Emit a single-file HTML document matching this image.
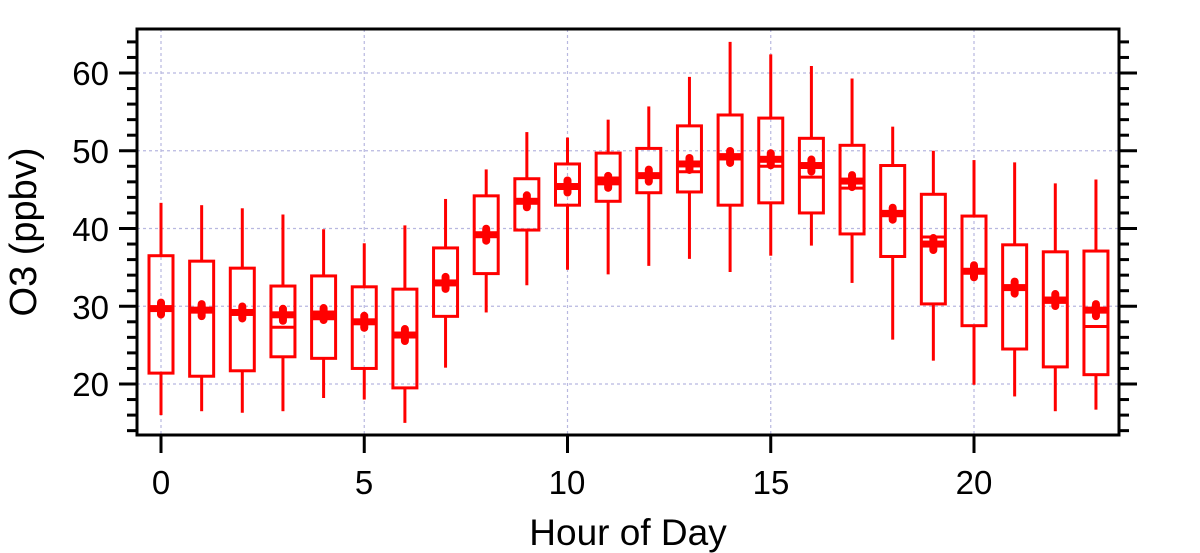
<!DOCTYPE html>
<html><head><style>body{margin:0;background:#fff}svg{display:block}text{font-family:"Liberation Sans",Arial,sans-serif;fill:#000}</style></head>
<body>
<svg id="s" width="1200" height="553" viewBox="0 0 1200 553">
<g id="grid" stroke="#b8b8e0" stroke-width="1.2" stroke-dasharray="3,3"></g>
<g id="data"></g>
<g id="axes" stroke="#000" stroke-width="3" fill="none"></g>
<g style="font-size:33px" text-anchor="end">
<text x="109" y="85">60</text><text x="109" y="163">50</text><text x="109" y="241">40</text><text x="109" y="319">30</text><text x="109" y="396">20</text>
</g>
<g style="font-size:33px" text-anchor="middle">
<text x="161" y="494">0</text><text x="364" y="494">5</text><text x="567" y="494">10</text><text x="771" y="494">15</text><text x="974" y="494">20</text>
</g>
<g style="font-size:37px" text-anchor="middle">
<text x="628" y="545">Hour of Day</text>
<text transform="translate(36,232) rotate(-90)" style="font-size:38px">O3 (ppbv)</text>
</g>
</svg>
<script>
var L=137,R=1119,T=29,B=435;
function X(h){return 161+h*40.65}
function Y(v){return 384-(v-20)*7.775}
var ns="http://www.w3.org/2000/svg";
function el(p,t,a){var e=document.createElementNS(ns,t);for(var k in a)e.setAttribute(k,a[k]);document.getElementById(p).appendChild(e);return e}
for(var v=20;v<=60;v+=10)el("grid","line",{x1:L,x2:R,y1:Y(v),y2:Y(v)});
for(var h=0;h<=20;h+=5)el("grid","line",{x1:X(h),x2:X(h),y1:T,y2:B});
var d=[[16,21.4,29.6,36.5,43.3,29.7],[16.5,21,29.5,35.8,43,29.5],[16.3,21.7,29,34.9,42.6,29.2],[16.5,23.5,27.3,32.6,41.8,28.9],[18.2,23.3,28.4,33.9,39.9,29],[18,22,28,32.5,38.1,28],[15,19.5,26.2,32.2,40.4,26.3],[22.1,28.7,33,37.5,43.8,33],[29.2,34.2,39.2,44.2,47.6,39.2],[32.7,39.8,43.5,46.4,52.4,43.5],[34.7,43,45.3,48.3,51.7,45.4],[34.1,43.5,46.5,49.7,54,46],[35.2,44.6,46.8,50.3,55.7,46.8],[36.1,44.7,47.3,53.2,59.5,48.3],[34.4,43,49.5,54.6,64,49.2],[36.5,43.3,48,54.2,62.4,48.9],[37.8,42,46.6,51.6,60.9,48.1],[33,39.3,45.2,50.7,59.3,46.1],[25.7,36.4,42.2,48.1,53.1,41.9],[23,30.3,38.9,44.4,50,38],[19.9,27.5,34.5,41.6,48.8,34.5],[18.4,24.5,32.4,37.9,48.5,32.4],[16.5,22.2,30.5,37,45.8,30.8],[16.7,21.2,27.4,37.1,46.3,29.5]];
var c="#f00";
d.forEach(function(r,h){var x=X(h);
el("data","line",{x1:x,x2:x,y1:Y(r[0]),y2:Y(r[1]),stroke:c,"stroke-width":3});
el("data","line",{x1:x,x2:x,y1:Y(r[3]),y2:Y(r[4]),stroke:c,"stroke-width":3});
el("data","rect",{x:x-12,y:Y(r[3]),width:24,height:Y(r[1])-Y(r[3]),fill:"none",stroke:c,"stroke-width":3});
el("data","line",{x1:x-12,x2:x+12,y1:Y(r[2]),y2:Y(r[2]),stroke:c,"stroke-width":3});
el("data","rect",{x:x-12,y:Y(r[5])-3.5,width:24,height:7,fill:c});
el("data","rect",{x:x-4,y:Y(r[5])-10,width:8,height:20,fill:c,rx:4});
});
el("axes","rect",{x:L,y:T,width:R-L,height:B-T});
for(var v=14;v<=64;v+=2){var y=Y(v);if(y<T||y>B)continue;var mj=v%10==0;
el("axes","line",{x1:L,x2:L-(mj?18:10),y1:y,y2:y});el("axes","line",{x1:R,x2:R+(mj?18:10),y1:y,y2:y});}
for(var h=0;h<=20;h+=5)el("axes","line",{x1:X(h),x2:X(h),y1:B,y2:B+18});
</script>
</body></html>
